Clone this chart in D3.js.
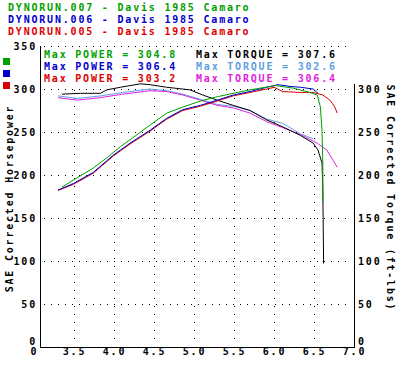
<!DOCTYPE html>
<html>
<head>
<meta charset="utf-8">
<script src="https://cdn.jsdelivr.net/npm/d3@7"></script>
<style>
  body { margin: 0; background: #fff; }
  svg text { font-family: "DejaVu Sans Mono", monospace; font-weight: bold; font-size: 10px; letter-spacing: 1.8px; }
</style>
</head>
<body>
<div id="chart"></div>
<script>
// run headers
const runNames = ["DYNORUN.007 - Davis 1985 Camaro", "DYNORUN.006 - Davis 1985 Camaro", "DYNORUN.005 - Davis 1985 Camaro"];
const powerColors = ["#00a000", "#0000cc", "#dd0000"];
const torqueColors = ["#000000", "#60a0e0", "#e020e0"];
const maxPower = ["304.8", "306.4", "303.2"];
const maxTorque = ["307.6", "302.6", "306.4"];

// x ticks (rpm x1000)
const xTicks = [3.0, 3.5, 4.0, 4.5, 5.0, 5.5, 6.0, 6.5, 7.0];
const xTickLabels = ["0", "3.5", "4.0", "4.5", "5.0", "5.5", "6.0", "6.5", "7.0"];
const hpTicks = [0, 50, 100, 150, 200, 250, 300, 350];
const tqTicks = [0, 50, 100, 150, 200, 250, 300];

// power curves
const rpmPow007 = [3.35, 3.49, 3.74, 3.91, 4.08, 4.29, 4.45, 4.66, 4.86, 5.08, 5.29, 5.49, 5.70, 5.83, 6.02, 6.24, 6.45, 6.54, 6.58, 6.60, 6.61, 6.61];
const pow007 = [186, 194, 208, 220, 233, 247, 258, 272, 279, 286, 291, 295, 299, 301, 304, 301, 296, 293, 279, 252, 214, 169];
const rpmPow006 = [3.30, 3.49, 3.74, 3.99, 4.20, 4.45, 4.66, 4.86, 5.08, 5.29, 5.49, 5.70, 5.91, 6.05, 6.20, 6.33, 6.49, 6.55];
const pow006 = [182.5, 190, 203, 223, 237, 252, 266, 276, 281, 287, 293, 297, 302, 305, 303, 302, 300, 295];
const rpmPow005 = [3.30, 3.49, 3.74, 3.99, 4.20, 4.45, 4.66, 4.86, 5.08, 5.29, 5.49, 5.70, 5.91, 6.00, 6.11, 6.33, 6.49, 6.61, 6.70, 6.76, 6.79];
const pow005 = [182, 189, 202, 222, 236, 251, 265, 275, 280, 286, 292, 296, 300, 302, 297, 296, 296, 293, 287, 279, 272];

// torque curves
const rpmTq007 = [3.35, 3.58, 3.83, 3.91, 4.08, 4.33, 4.45, 4.66, 4.95, 5.11, 5.29, 5.49, 5.70, 5.91, 6.11, 6.33, 6.49, 6.55, 6.60, 6.61, 6.62];
const tq007 = [294, 295, 295, 299, 302, 306, 305, 302, 299, 293, 287, 281, 275, 264, 256, 246, 237, 229, 214, 186, 97];
const rpmTq006 = [3.30, 3.54, 3.83, 4.11, 4.45, 4.66, 4.86, 5.08, 5.29, 5.49, 5.70, 5.91, 6.11, 6.33, 6.49];
const tq006 = [292, 289, 292, 296, 300, 298, 294, 288, 282, 280, 275, 265, 260, 248, 242];
const rpmTq005 = [3.30, 3.54, 3.83, 4.11, 4.45, 4.66, 4.86, 5.08, 5.29, 5.49, 5.70, 5.91, 6.11, 6.33, 6.54, 6.66, 6.74, 6.79];
const tq005 = [290, 287, 290, 294, 298, 297, 293, 287, 281, 278, 272, 262, 255, 247, 237, 229, 217, 209];

const width = 404, height = 367;
const svg = d3.select("#chart").append("svg")
    .attr("width", width)
    .attr("height", height);

const x = d3.scaleLinear().domain([3, 7]).range([34, 354]);
const y = d3.scaleLinear().domain([0, 350]).range([347, 46]);
const axisLeftX = 40, axisRightX = 354;

// dotted grid
svg.append("g").selectAll("line")
    .data(hpTicks.filter(d => d > 0))
    .enter().append("line")
    .attr("x1", axisLeftX + 4).attr("x2", axisRightX - 4)
    .attr("y1", d => Math.round(y(d)) + 0.5).attr("y2", d => Math.round(y(d)) + 0.5)
    .attr("stroke", "#000").attr("stroke-dasharray", "1,6");

svg.append("g").selectAll("line")
    .data(xTicks.filter(d => d > 3 && d < 7))
    .enter().append("line")
    .attr("x1", d => Math.round(x(d)) + 0.5).attr("x2", d => Math.round(x(d)) + 0.5)
    .attr("y1", y(350) + 4).attr("y2", y(0) - 2)
    .attr("stroke", "#000").attr("stroke-dasharray", "1,7");

// blank band behind the max value texts
svg.append("rect")
    .attr("x", axisLeftX + 2).attr("y", 49)
    .attr("width", axisRightX - axisLeftX - 4).attr("height", 35)
    .attr("fill", "#fff");

// curves
const series = [
    { rpm: rpmTq006, val: tq006, color: torqueColors[1] },
    { rpm: rpmTq005, val: tq005, color: torqueColors[2] },
    { rpm: rpmTq007, val: tq007, color: torqueColors[0] },
    { rpm: rpmPow005, val: pow005, color: powerColors[2] },
    { rpm: rpmPow006, val: pow006, color: powerColors[1] },
    { rpm: rpmPow007, val: pow007, color: powerColors[0] }
];
const line = d3.line().x(d => x(d[0])).y(d => y(d[1]));
series.forEach(s => {
    svg.append("path")
        .datum(d3.zip(s.rpm, s.val))
        .attr("d", line)
        .attr("fill", "none")
        .attr("stroke", s.color)
        .attr("stroke-width", 1);
});

// axes
const leftAxis = svg.append("g")
    .attr("transform", `translate(${axisLeftX},0)`)
    .call(d3.axisLeft(y).tickValues(hpTicks).tickSize(0).tickPadding(3));
const rightAxis = svg.append("g")
    .attr("transform", `translate(${axisRightX},0)`)
    .call(d3.axisRight(y).tickValues(tqTicks).tickSize(0).tickPadding(4));
const bottomAxis = svg.append("g")
    .attr("transform", `translate(0,${y(0)})`)
    .call(d3.axisBottom(x).tickValues(xTicks).tickFormat((d, i) => xTickLabels[i]).tickSize(0).tickPadding(1));
[leftAxis, rightAxis, bottomAxis].forEach(g => {
    g.select(".domain").remove();
    g.selectAll("text").attr("fill", "#000");
    g.attr("font-size", null).attr("font-family", null);
});
// zero labels sit just above the bottom axis
[leftAxis, rightAxis].forEach(g => {
    g.selectAll(".tick").filter(d => d === 0).select("text").attr("dy", "-0.25em");
});
bottomAxis.selectAll("text").attr("dy", "0.7em");

svg.append("line").attr("x1", axisLeftX + 0.5).attr("x2", axisLeftX + 0.5)
    .attr("y1", y(350)).attr("y2", y(0) + 0.5).attr("stroke", "#000");
svg.append("line").attr("x1", axisLeftX).attr("x2", axisRightX + 1)
    .attr("y1", y(0) + 0.5).attr("y2", y(0) + 0.5).attr("stroke", "#000");
svg.append("line").attr("x1", axisRightX + 0.5).attr("x2", axisRightX + 0.5)
    .attr("y1", y(300) - 5).attr("y2", y(0) + 0.5).attr("stroke", "#000");

// axis titles
svg.append("text")
    .attr("transform", `translate(13,${(y(0) + y(350)) / 2 + 2}) rotate(-90)`)
    .attr("text-anchor", "middle")
    .text("SAE Corrected Horsepower");
svg.append("text")
    .attr("transform", `translate(387,${198}) rotate(90)`)
    .attr("text-anchor", "middle")
    .text("SAE Corrected Torque (ft-lbs)");

// header lines
svg.append("g").selectAll("text")
    .data(runNames)
    .enter().append("text")
    .attr("x", 8).attr("y", (d, i) => 11 + i * 12)
    .attr("fill", (d, i) => powerColors[i])
    .text(d => d);

// legend squares
svg.append("g").selectAll("rect")
    .data(powerColors)
    .enter().append("rect")
    .attr("x", 3).attr("y", (d, i) => 58 + i * 12)
    .attr("width", 7).attr("height", 7)
    .attr("fill", d => d);

// max values
svg.append("g").selectAll("text")
    .data(maxPower)
    .enter().append("text")
    .attr("x", 44).attr("y", (d, i) => 58 + i * 12)
    .attr("fill", (d, i) => powerColors[i])
    .text(d => `Max POWER = ${d}`);
svg.append("g").selectAll("text")
    .data(maxTorque)
    .enter().append("text")
    .attr("x", 196).attr("y", (d, i) => 58 + i * 12)
    .attr("fill", (d, i) => torqueColors[i])
    .text(d => `Max TORQUE = ${d}`);
</script>
</body>
</html>
